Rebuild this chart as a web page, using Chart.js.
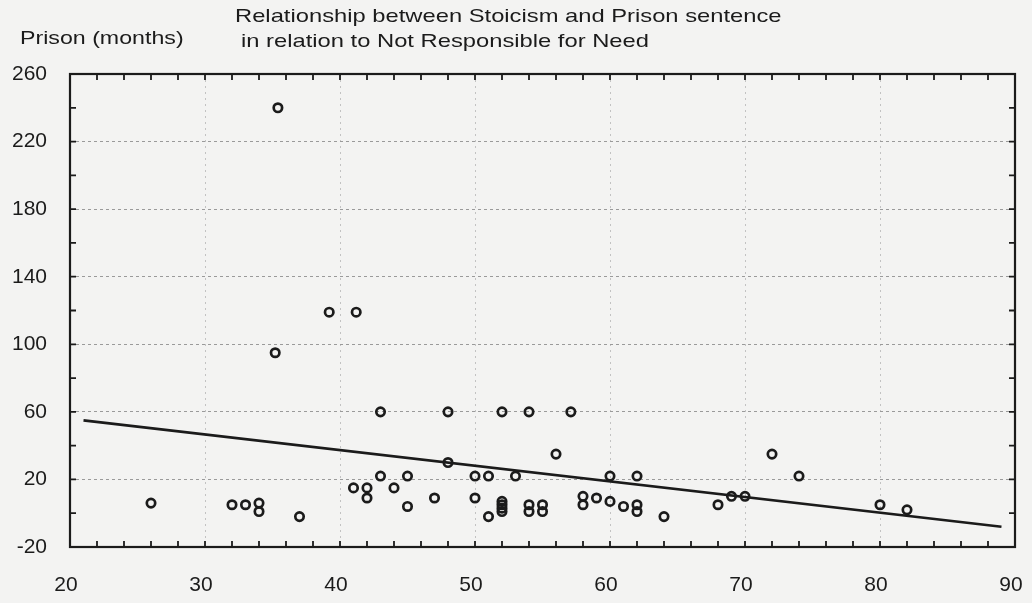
<!DOCTYPE html>
<html>
<head>
<meta charset="utf-8">
<script src="https://cdn.jsdelivr.net/npm/chart.js@4.4.1/dist/chart.umd.min.js"></script>
<style>
  html, body { margin: 0; padding: 0; background: #f3f3f2; }
  #wrap { width: 1032px; height: 603px; position: relative; }
  canvas { display: block; }
</style>
</head>
<body>
<div id="wrap"><canvas id="c" width="1032" height="603"></canvas></div>
<script>
// ---- data ----
const stoicism = [26, 32, 33, 34, 34, 35.4, 35.2, 37, 39.2, 41.2, 41, 42, 42, 43, 43, 44, 45, 45, 47, 48, 48,
                  50, 50, 51, 51, 52, 52, 52, 52, 52, 53, 54, 54, 54, 55, 55, 56, 57.1, 58, 58, 59, 60, 60,
                  61, 62, 62, 62, 64, 68, 69, 70, 72, 74, 80, 82];
const prison   = [6, 5, 5, 6, 1, 240, 95, -2, 119, 119, 15, 15, 9, 22, 60, 15, 22, 4, 9, 30, 60,
                  22, 9, 22, -2, 60, 7, 5, 3, 1, 22, 60, 5, 1, 5, 1, 35, 60, 10, 5, 9, 22, 7,
                  4, 22, 5, 1, -2, 5, 10, 10, 35, 22, 5, 2];
const fitX = [21, 89];
const fitY = [55, -8];
const xTickLabels = [20, 30, 40, 50, 60, 70, 80, 90];
const yTickLabels = [-20, 20, 60, 100, 140, 180, 220, 260];
const titleLine1 = "Relationship between Stoicism and Prison sentence";
const titleLine2 = "in relation to Not Responsible for Need";
const yTitle = "Prison (months)";

const points = stoicism.map((x, i) => ({ x: x, y: prison[i] }));
const fitLine = fitX.map((x, i) => ({ x: x, y: fitY[i] }));

const INK = '#1b1b1b';
const TEXT_FONT = '19px "Liberation Sans", Arial, sans-serif';

function stretchedText(ctx, text, x, y, sx) {
  ctx.save();
  ctx.translate(x, y);
  ctx.scale(sx, 1);
  ctx.fillText(text, 0, 0);
  ctx.restore();
}

const framePlugin = {
  id: 'frame',
  afterDraw(chart) {
    const ctx = chart.ctx;
    const a = chart.chartArea;
    const xs = chart.scales.x, ys = chart.scales.y;
    ctx.save();
    ctx.strokeStyle = INK;
    ctx.lineWidth = 2.2;
    ctx.strokeRect(a.left, a.top, a.right - a.left, a.bottom - a.top);
    ctx.lineWidth = 1.8;
    const tl = 6;
    ctx.beginPath();
    xs.ticks.forEach(t => {
      const px = xs.getPixelForValue(t.value);
      if (px <= a.left + 1 || px >= a.right - 1) return;
      ctx.moveTo(px, a.bottom); ctx.lineTo(px, a.bottom - tl);
      ctx.moveTo(px, a.top); ctx.lineTo(px, a.top + tl);
    });
    ys.ticks.forEach(t => {
      const py = ys.getPixelForValue(t.value);
      if (py <= a.top + 1 || py >= a.bottom - 1) return;
      ctx.moveTo(a.left, py); ctx.lineTo(a.left + tl, py);
      ctx.moveTo(a.right, py); ctx.lineTo(a.right - tl, py);
    });
    ctx.stroke();
    // titles
    ctx.fillStyle = INK;
    ctx.font = TEXT_FONT;
    ctx.textAlign = 'left';
    ctx.textBaseline = 'alphabetic';
    stretchedText(ctx, titleLine1, 235, 22, 1.25);
    stretchedText(ctx, titleLine2, 241, 47, 1.25);
    stretchedText(ctx, yTitle, 20, 44, 1.22);
    ctx.restore();
  }
};

new Chart(document.getElementById('c'), {
  type: 'scatter',
  data: {
    datasets: [
      {
        label: 'Observations',
        data: points,
        pointStyle: 'circle',
        pointRadius: 4.2,
        pointHoverRadius: 4.2,
        borderWidth: 2.7,
        borderColor: INK,
        backgroundColor: 'rgba(0,0,0,0)'
      },
      {
        label: 'Fit',
        type: 'line',
        data: fitLine,
        showLine: true,
        borderColor: INK,
        borderWidth: 2.7,
        pointRadius: 0,
        fill: false
      }
    ]
  },
  options: {
    responsive: false,
    animation: false,
    devicePixelRatio: 1,
    layout: { padding: { top: 74, right: 17, left: 0, bottom: 0 } },
    plugins: { legend: { display: false }, title: { display: false }, tooltip: { enabled: false } },
    scales: {
      x: {
        type: 'linear',
        min: 20, max: 90,
        afterFit: s => { s.height = 56; s.paddingLeft = 0; s.paddingRight = 0; },
        ticks: {
          stepSize: 2,
          autoSkip: false,
          maxRotation: 0,
          padding: 26,
          labelOffset: -4,
          color: INK,
          font: { family: '"Liberation Sans", Arial, sans-serif', size: 21 },
          callback: v => xTickLabels.includes(v) ? String(v) : ''
        },
        grid: {
          drawTicks: false,
          lineWidth: 1,
          color: c => (c.tick && xTickLabels.includes(c.tick.value) && c.tick.value !== 20 && c.tick.value !== 90) ? '#c2c2c2' : 'rgba(0,0,0,0)'
        },
        border: { display: false, dash: [2, 4] }
      },
      y: {
        type: 'linear',
        min: -20, max: 260,
        afterFit: s => { s.width = 70; s.paddingTop = 0; s.paddingBottom = 0; },
        ticks: {
          stepSize: 20,
          autoSkip: false,
          padding: 23,
          color: INK,
          font: { family: '"Liberation Sans", Arial, sans-serif', size: 21 },
          callback: v => yTickLabels.includes(v) ? String(v) : ''
        },
        grid: {
          drawTicks: false,
          lineWidth: 1,
          color: c => (c.tick && yTickLabels.includes(c.tick.value) && c.tick.value !== -20 && c.tick.value !== 260) ? '#9a9a9a' : 'rgba(0,0,0,0)'
        },
        border: { display: false, dash: [3, 3] }
      }
    }
  },
  plugins: [framePlugin]
});
</script>
</body>
</html>
